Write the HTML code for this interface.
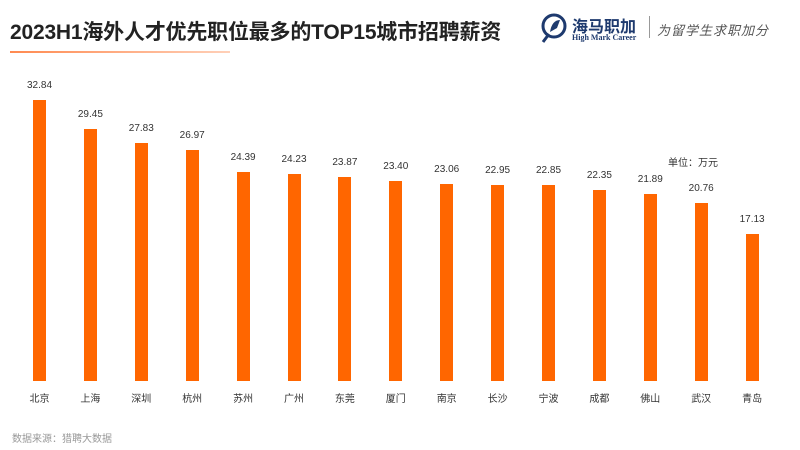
<!DOCTYPE html>
<html><head><meta charset="utf-8"><style>
body{margin:0;width:800px;height:450px;background:#fff;overflow:hidden;font-family:"Liberation Sans","Noto Sans CJK SC",sans-serif;position:relative}
.t{position:absolute;left:10px;top:16px;font-size:21px;font-weight:bold;color:#222;white-space:nowrap;letter-spacing:-0.2px}
.ul{position:absolute;left:10px;top:51px;width:220px;height:2px;background:linear-gradient(90deg,#ff8a50,#ffd0b8)}
.b{position:absolute;background:#ff6600;width:13px}
.v{position:absolute;font-size:10px;color:#333;width:50px;text-align:center}
.c{position:absolute;top:390px;font-size:10px;color:#333;width:50px;text-align:center}
</style></head><body>
<div class="t">2023H1海外人才优先职位最多的TOP15城市招聘薪资</div>
<div class="ul"></div>
<svg style="position:absolute;left:540px;top:12px" width="30" height="32"><circle cx="14" cy="14" r="11" fill="none" stroke="#1e3a6e" stroke-width="3"/><path d="M9 22 L3 30" stroke="#1e3a6e" stroke-width="3"/><path d="M10 20 Q12 8 20 8 L17 16 Z" fill="#1e3a6e"/></svg>
<div style="position:absolute;left:572px;top:13px;font-size:16px;font-weight:bold;color:#1e3a6e">海马职加</div>
<div style="position:absolute;left:572px;top:33px;font-size:8px;font-family:'Liberation Serif',serif;font-weight:bold;color:#1e3a6e">High Mark Career</div>
<div style="position:absolute;left:649px;top:16px;width:1px;height:22px;background:#999"></div>
<div style="position:absolute;left:657px;top:20px;font-size:13px;color:#555;font-style:italic;letter-spacing:1px">为留学生求职加分</div>
<div style="position:absolute;left:668px;top:154px;font-size:10px;color:#333">单位：万元</div>
<div id="g"></div>
<div style="position:absolute;left:12px;top:430px;font-size:10px;color:#999">数据来源：猎聘大数据</div>
<script>
var d=[["北京",32.84],["上海",29.45],["深圳",27.83],["杭州",26.97],["苏州",24.39],["广州",24.23],["东莞",23.87],["厦门",23.40],["南京",23.06],["长沙",22.95],["宁波",22.85],["成都",22.35],["佛山",21.89],["武汉",20.76],["青岛",17.13]];
var h="";d.forEach(function(e,i){var cx=39.5+i*50.9,hh=e[1]*8.56,top=381-hh;
h+='<div class="b" style="left:'+(cx-6.5)+'px;top:'+top+'px;height:'+hh+'px"></div>';
h+='<div class="v" style="left:'+(cx-25)+'px;top:'+(top-20)+'px">'+e[1].toFixed(2)+'</div>';
h+='<div class="c" style="left:'+(cx-25)+'px">'+e[0]+'</div>';});
document.getElementById("g").innerHTML=h;
</script>
</body></html>
